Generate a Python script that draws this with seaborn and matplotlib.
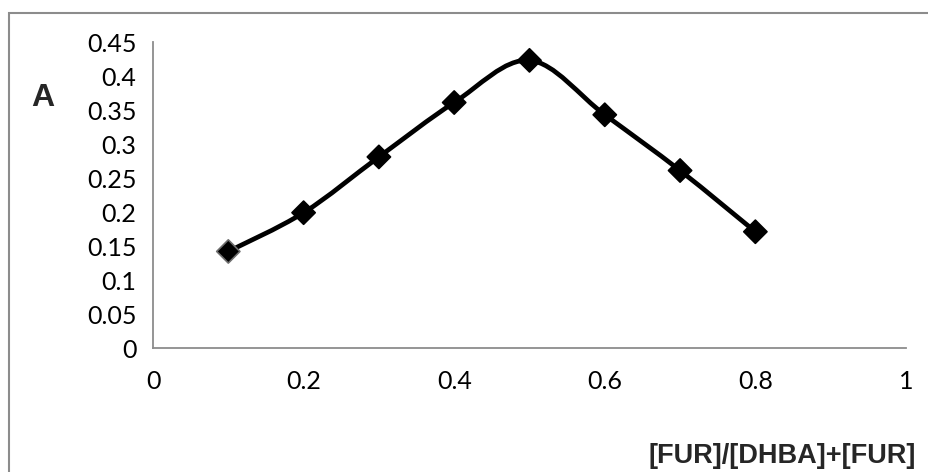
import numpy as np
import pandas as pd
import matplotlib
matplotlib.use("Agg")
import matplotlib.pyplot as plt
from matplotlib.path import Path
from matplotlib.patches import PathPatch, Rectangle
import seaborn as sns

# datos
fraccion = [0.1, 0.2, 0.3, 0.4, 0.5, 0.6, 0.7, 0.8]
absorbancia = [0.142, 0.199, 0.281, 0.361, 0.423, 0.343, 0.261, 0.171]
xticks = [0, 0.2, 0.4, 0.6, 0.8, 1]
yticks = [0, 0.05, 0.1, 0.15, 0.2, 0.25, 0.3, 0.35, 0.4, 0.45]

df = pd.DataFrame({"x": fraccion, "y": absorbancia})

sns.set_style("white")
plt.rcParams["font.family"] = ["Lato", "DejaVu Sans"]

fig = plt.figure(figsize=(9.29, 4.72), dpi=100)
ax = fig.add_axes([0.1647, 0.2627, 0.9752 - 0.1647, 0.911 - 0.2627])

# curva suavizada (bezier tipo Catmull-Rom, como Excel)
pts = df[["x", "y"]].to_numpy()
ext = np.vstack([pts[0], pts, pts[-1]])
verts = [tuple(pts[0])]
codes = [Path.MOVETO]
for i in range(1, len(ext) - 2):
    p0, p1, p2, p3 = ext[i - 1], ext[i], ext[i + 1], ext[i + 2]
    c1 = p1 + (p2 - p0) / 6
    c2 = p2 - (p3 - p1) / 6
    verts += [tuple(c1), tuple(c2), tuple(p2)]
    codes += [Path.CURVE4] * 3
ax.add_patch(PathPatch(Path(verts, codes), facecolor="none",
                       edgecolor="black", lw=3.4, zorder=2))

edges = ["#6e6e6e"] + ["black"] * (len(df) - 1)
sns.scatterplot(data=df, x="x", y="y", marker="D", s=140, color="black",
                edgecolor=edges, linewidth=1.2, ax=ax, zorder=3, legend=False)

ax.set_xlim(0, 1)
ax.set_ylim(0, 0.45)
ax.set_xticks(xticks)
ax.set_xticklabels([f"{t:g}" for t in xticks])
ax.set_yticks(yticks)
ax.set_yticklabels([f"{t:g}" for t in yticks])
ax.set_xlabel("")
ax.set_ylabel("")
for s in ["top", "right"]:
    ax.spines[s].set_visible(False)
for s in ["left", "bottom"]:
    ax.spines[s].set_color("#8c8c8c")
    ax.spines[s].set_linewidth(1.3)
ax.tick_params(axis="both", direction="out", length=7, width=1.3,
               color="#8c8c8c", labelsize=18, labelcolor="black")
ax.tick_params(axis="y", pad=5)
ax.tick_params(axis="x", pad=9)

bold = ["Liberation Sans", "DejaVu Sans"]
fig.text(43 / 929, 1 - 98 / 472, "A", fontsize=23, fontweight="bold",
         family=bold, ha="center", va="center")
fig.text(916 / 929, 1 - 456 / 472, "[FUR]/[DHBA]+[FUR]", fontsize=19.5,
         fontweight="bold", family=bold, ha="right", va="center")

# marco del area del grafico
fig.patches.append(Rectangle((8.5 / 929, -0.1), 1.2, 1 - 12.5 / 472 + 0.1,
                             transform=fig.transFigure, facecolor="none",
                             edgecolor="#8c8c8c", lw=1.5))

fig.savefig("out.png", dpi=100)
